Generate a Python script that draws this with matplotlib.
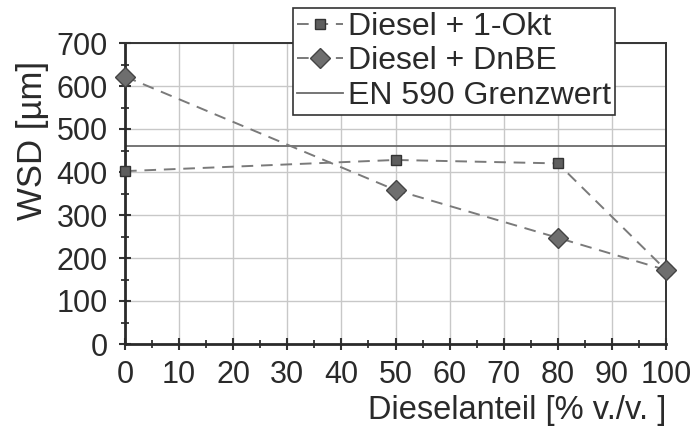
import matplotlib.pyplot as plt
from matplotlib.ticker import MultipleLocator

plt.rcParams['font.family'] = ['Liberation Sans', 'DejaVu Sans']

# data
diesel_share = [0, 50, 80, 100]
wsd_okt = [402, 428, 420, 172]
wsd_dnbe = [622, 358, 247, 172]
en590_limit = 460

fig = plt.figure(figsize=(6.94, 4.30), dpi=100)
ax = fig.add_axes([125 / 694, 86 / 430, 541 / 694, 301 / 430])

ax.grid(True, which='major', color='#c8c8c8', linewidth=1.0, zorder=0)

line_okt, = ax.plot(diesel_share, wsd_okt, linestyle=(0, (6, 4)), color='#7a7a7a', linewidth=1.4,
                    marker='s', markersize=7, markerfacecolor='#5e5e5e', markeredgecolor='#333333',
                    markeredgewidth=1.0, zorder=3, clip_on=False, label='Diesel + 1-Okt')
line_dnbe, = ax.plot(diesel_share, wsd_dnbe, linestyle=(0, (6, 4)), color='#7a7a7a', linewidth=1.4,
                     marker='D', markersize=10, markerfacecolor='#6e6e6e', markeredgecolor='#444444',
                     markeredgewidth=1.0, zorder=3, clip_on=False, label='Diesel + DnBE')
line_lim = ax.axhline(en590_limit, color='#6a6a6a', linewidth=1.3, zorder=2, label='EN 590 Grenzwert')

ax.set_xlim(0, 100)
ax.set_ylim(0, 700)
ax.xaxis.set_major_locator(MultipleLocator(10))
ax.xaxis.set_minor_locator(MultipleLocator(5))
ax.yaxis.set_major_locator(MultipleLocator(100))
ax.yaxis.set_minor_locator(MultipleLocator(50))
ax.tick_params(which='major', direction='inout', length=9, width=1.5, color='#333333',
               labelsize=22, labelcolor='#2a2a2a', pad=8)
ax.tick_params(axis='x', which='major', pad=7)
ax.tick_params(which='minor', direction='inout', length=6, width=1.3, color='#333333')

for side in ['left', 'bottom']:
    ax.spines[side].set_linewidth(2.0)
    ax.spines[side].set_color('#2a2a2a')
for side in ['top', 'right']:
    ax.spines[side].set_linewidth(1.4)
    ax.spines[side].set_color('#333333')

ax.set_ylabel('WSD [µm]', fontsize=25, color='#2a2a2a')
ax.yaxis.set_label_coords(-0.14, 0.675)
ax.set_xlabel('Dieselanteil [% v./v. ]', fontsize=23.5, color='#2a2a2a')
ax.xaxis.set_label_coords(1.0, -0.17)
ax.xaxis.label.set_ha('right')

leg = ax.legend(handles=[line_okt, line_dnbe, line_lim], loc='upper left',
                bbox_to_anchor=(293 / 694, 1 - 8 / 430), bbox_transform=fig.transFigure,
                fontsize=23, frameon=True, fancybox=False, framealpha=1, edgecolor='#333333',
                handlelength=1.45, handletextpad=0.15, borderpad=0.12, labelspacing=0.14,
                borderaxespad=0)
leg.get_frame().set_linewidth(1.2)
for t in leg.get_texts():
    t.set_color('#2a2a2a')
leg.set_zorder(5)

fig.savefig('out.png', dpi=100)
